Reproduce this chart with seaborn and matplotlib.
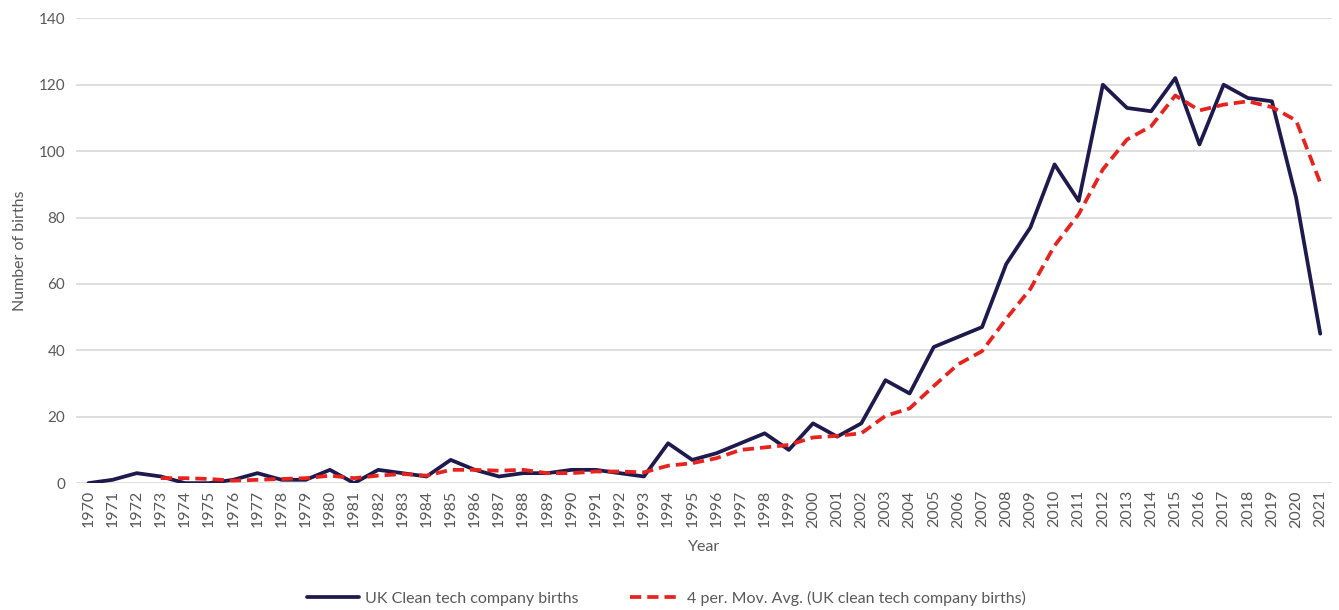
import pandas as pd
import seaborn as sns
import matplotlib.pyplot as plt

# --- data ---
years = list(range(1970, 2022))
births = [0, 1, 3, 2, 0, 0, 1, 3, 1, 1,
          4, 0, 4, 3, 2, 7, 4, 2, 3, 3,
          4, 4, 3, 2, 12, 7, 9, 12, 15, 10,
          18, 14, 18, 31, 27, 41, 44, 47, 66, 77,
          96, 85, 120, 113, 112, 122, 102, 120, 116, 115,
          86, 45]
# 4 period moving average (starts at 1973)
mov_avg = [None, None, None, 1.5, 1.5, 1.25, 0.75, 1.0, 1.25, 1.5,
           2.25, 1.5, 2.25, 2.75, 2.25, 4.0, 4.0, 3.75, 4.0, 3.0,
           3.0, 3.5, 3.5, 3.25, 5.25, 6.0, 7.5, 10.0, 10.75, 11.5,
           13.75, 14.25, 15.0, 20.25, 22.5, 29.25, 35.75, 39.75, 49.5, 58.5,
           71.5, 81.0, 94.5, 103.5, 107.5, 116.75, 112.25, 114.0, 115.0, 113.25,
           109.25, 90.5]

df = pd.DataFrame({"pos": range(len(years)), "Year": years,
                   "births": births, "mov_avg": mov_avg})
df["mov_avg"] = df["mov_avg"].astype(float)

sns.set_style("white")
plt.rcParams['font.family'] = ['Lato', 'DejaVu Sans']

fig, ax = plt.subplots(figsize=(13.39, 6.10), dpi=100)
fig.subplots_adjust(left=0.057, right=0.995, top=0.97, bottom=0.208)

grey = "#595959"
sns.lineplot(data=df, x="pos", y="births", ax=ax, color="#1E1A4D", linewidth=2.7,
             label="UK Clean tech company births")
sns.lineplot(data=df.dropna(), x="pos", y="mov_avg", ax=ax, color="#E8231E", linewidth=2.7,
             linestyle=(0, (3, 1.6)),
             label="4 per. Mov. Avg. (UK clean tech company births)")

ax.set_xlim(-0.5, len(years) - 0.5)
ax.set_ylim(0, 140)
ax.set_yticks(range(0, 141, 20))
ax.set_xticks(df["pos"])
ax.set_xticklabels(years, rotation=90, color=grey, fontsize=11.5)
ax.tick_params(axis='y', labelcolor=grey, labelsize=11, length=0, pad=8)
ax.tick_params(axis='x', length=0, pad=5)
ax.yaxis.grid(True, color="#D9D9D9", linewidth=1.2)
ax.set_axisbelow(True)
for s in ax.spines.values():
    s.set_visible(False)

ax.set_xlabel("Year", color=grey, fontsize=11.5, labelpad=9)
ax.set_ylabel("Number of births", color=grey, fontsize=11.5, labelpad=8)

ax.legend(loc="upper center", bbox_to_anchor=(0.47, -0.2), ncol=2, frameon=False,
          fontsize=11.5, labelcolor=grey, handlelength=3.2, columnspacing=3.2,
          handletextpad=0.4)

fig.savefig("out.png", dpi=100)
